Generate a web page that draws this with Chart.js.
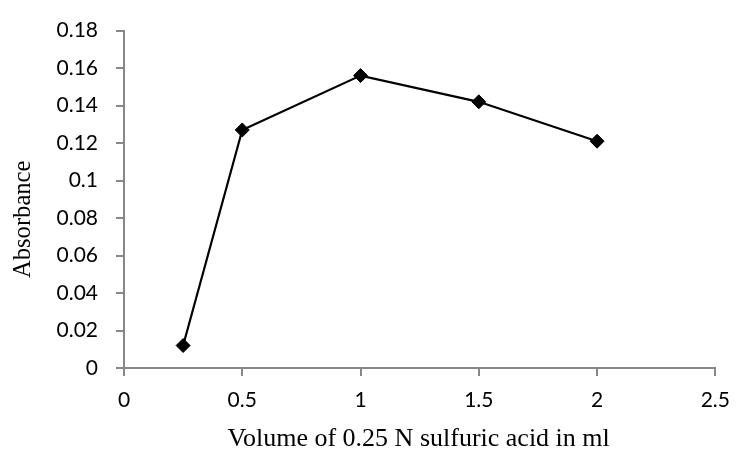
<!DOCTYPE html>
<html>
<head>
<meta charset="utf-8">
<script src="https://cdn.jsdelivr.net/npm/chart.js@4"></script>
<style>
html,body{margin:0;padding:0;background:#fff;}
#wrap{width:742px;height:476px;position:relative;}
</style>
</head>
<body>
<div id="wrap"><canvas id="c" width="742" height="476"></canvas></div>
<script>
const volumes = [0.25, 0.5, 1, 1.5, 2];
const absorbance = [0.012, 0.127, 0.156, 0.142, 0.121];
const xTitle = "Volume of 0.25 N sulfuric acid in ml";
const yTitle = "Absorbance";

const points = volumes.map((v, i) => ({x: v, y: absorbance[i]}));
const axisGray = '#878787';
const tickFont = {family: 'Lato, "Open Sans", sans-serif', size: 21};
const titleFontCss = '26px "Liberation Serif", "Times New Roman", serif';

const axisTitles = {
  id: 'axisTitles',
  afterDraw(chart) {
    const {ctx, chartArea} = chart;
    ctx.save();
    ctx.fillStyle = '#000';
    ctx.font = titleFontCss;
    ctx.textAlign = 'center';
    ctx.textBaseline = 'middle';
    ctx.save();
    ctx.translate((chartArea.left + chartArea.right) / 2 - 1, 440);
    ctx.scale(1, 0.946);
    ctx.fillText(xTitle, 0, 0);
    ctx.restore();
    ctx.translate(23, (chartArea.top + chartArea.bottom) / 2 + 20);
    ctx.rotate(-Math.PI / 2);
    ctx.scale(0.946, 1);
    ctx.fillText(yTitle, 0, 0);
    ctx.restore();
  }
};

new Chart(document.getElementById('c'), {
  type: 'scatter',
  data: {
    datasets: [{
      data: points,
      showLine: true,
      borderColor: '#000',
      borderWidth: 2.2,
      backgroundColor: '#000',
      pointStyle: 'rectRot',
      pointRadius: 7,
      pointHoverRadius: 7,
      pointBorderWidth: 1,
      tension: 0
    }]
  },
  plugins: [axisTitles],
  options: {
    responsive: false,
    animation: false,
    devicePixelRatio: 1,
    layout: {padding: {left: 0, right: 17, top: 21.5, bottom: 0}},
    plugins: {legend: {display: false}, tooltip: {enabled: false}},
    scales: {
      x: {
        type: 'linear',
        min: 0, max: 2.5,
        ticks: {stepSize: 0.5, color: '#000', font: tickFont, padding: 12, maxRotation: 0,
          callback: v => String(v)},
        grid: {drawOnChartArea: false, drawTicks: true, tickLength: 8, color: axisGray, lineWidth: 2},
        border: {color: axisGray, width: 2},
        afterFit: s => { s.height = 108; }
      },
      y: {
        type: 'linear',
        min: 0, max: 0.18,
        ticks: {stepSize: 0.02, color: '#000', font: tickFont, padding: 18,
          callback: v => String(Math.round(v * 100) / 100)},
        grid: {drawOnChartArea: false, drawTicks: true, tickLength: 8, color: axisGray, lineWidth: 2},
        border: {color: axisGray, width: 2},
        afterFit: s => { s.width = 124; }
      }
    }
  }
});
</script>
</body>
</html>
